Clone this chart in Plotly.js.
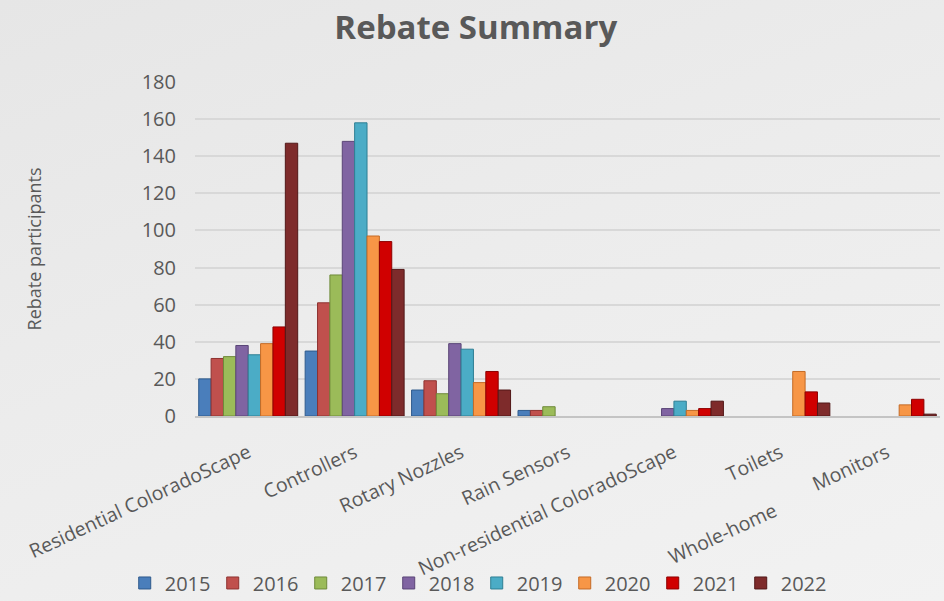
<!DOCTYPE html>
<html>
<head>
<meta charset="utf-8">
<script src="https://cdn.plot.ly/plotly-3.0.1.min.js"></script>
<style>
html,body{margin:0;padding:0;}
body{width:944px;height:601px;background:linear-gradient(160deg,#e6e6e6 0%,#ececec 45%,#f2f2f2 100%);}
#chart{width:944px;height:601px;}
</style>
</head>
<body>
<div id="chart"></div>
<script>
const categories = ["Residential ColoradoScape","Controllers","Rotary Nozzles","Rain Sensors","Non-residential ColoradoScape","Whole-home Toilets","Monitors"];
const tickLabels = ["Residential ColoradoScape","Controllers","Rotary Nozzles","Rain Sensors","Non-residential ColoradoScape","Toilets<br><br>Whole-home&nbsp;&nbsp;&nbsp;&nbsp;&nbsp;&nbsp;","Monitors"];
const years = ["2015","2016","2017","2018","2019","2020","2021","2022"];
const v2015 = [20, 35, 14, 3, null, null, null];
const v2016 = [31, 61, 19, 3, null, null, null];
const v2017 = [32, 76, 12, 5, null, null, null];
const v2018 = [38, 148, 39, null, 4, null, null];
const v2019 = [33, 158, 36, null, 8, null, null];
const v2020 = [39, 97, 18, null, 3, 24, 6];
const v2021 = [48, 94, 24, null, 4, 13, 9];
const v2022 = [147, 79, 14, null, 8, 7, 1];
const seriesValues = [v2015, v2016, v2017, v2018, v2019, v2020, v2021, v2022];
const colors = ["#4A7EBB","#C0504D","#9BBB59","#8064A2","#4BACC6","#F79646","#D00000","#7E2B2B"];
const lineColors = ["#2F5A8C","#8E3331","#6F8A3A","#5A4577","#2F7F94","#C46B26","#8E0000","#521818"];

const traces = years.map((y, i) => ({
  type: "bar",
  name: y,
  x: categories,
  y: seriesValues[i],
  marker: {color: colors[i], line: {color: lineColors[i], width: 1}},
  hoverinfo: "x+y+name"
}));

const font = "'Open Sans', 'DejaVu Sans', sans-serif";
const layout = {
  width: 944,
  height: 601,
  paper_bgcolor: "rgba(0,0,0,0)",
  plot_bgcolor: "rgba(0,0,0,0)",
  font: {family: font, color: "#595959"},
  margin: {l: 195, r: 4, t: 82, b: 185},
  title: {
    text: "<b>Rebate Summary</b>",
    font: {family: font, size: 33, color: "#595959"},
    xref: "container", x: 0.504, xanchor: "center",
    yref: "container", y: 0.955, yanchor: "middle"
  },
  barmode: "group",
  bargap: 0.07,
  bargroupgap: 0.0,
  xaxis: {
    type: "category",
    tickmode: "array",
    tickvals: categories,
    ticktext: tickLabels,
    tickangle: -25,
    tickfont: {family: font, size: 19.5, color: "#595959"},
    ticklabelstandoff: 16,
    showgrid: false,
    showline: true,
    linecolor: "#c4c4c4",
    linewidth: 2,
    ticks: "",
    zeroline: false
  },
  yaxis: {
    range: [0, 180],
    tickmode: "array",
    tickvals: [0,20,40,60,80,100,120,140,160,180],
    ticktext: ["0","20","40","60","80","100","120","140","160","180"],
    tickfont: {family: font, size: 20, color: "#595959"},
    showgrid: true,
    gridcolor: "#d8d8d8",
    gridwidth: 1.5,
    zeroline: false,
    showline: false,
    ticks: "",
    ticklabelstandoff: 18,
    title: {text: "Rebate participants", font: {family: font, size: 18, color: "#595959"}, standoff: 95}
  },
  showlegend: true,
  legend: {
    orientation: "h",
    xref: "container", x: 0.505, xanchor: "center",
    yref: "container", y: 0.03, yanchor: "middle",
    font: {family: font, size: 20, color: "#595959"},
    entrywidth: 43,
    entrywidthmode: "pixels",
    itemwidth: 30,
    bgcolor: "rgba(0,0,0,0)"
  }
};

Plotly.newPlot("chart", traces, layout, {displayModeBar: false, responsive: false});
</script>
</body>
</html>
